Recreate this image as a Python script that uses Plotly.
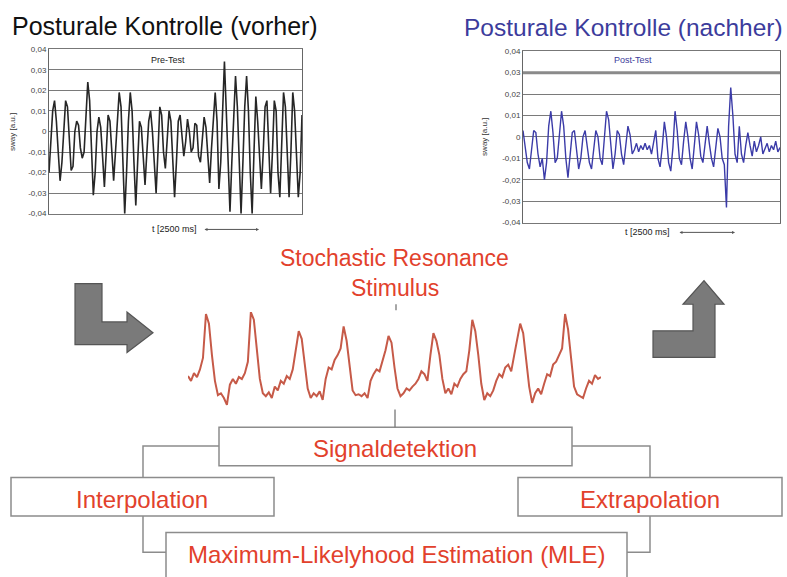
import plotly.graph_objects as go

W, H = 787, 577

# ---------------- data ----------------
pre_sway = [
    -0.020, -0.005, 0.010, 0.015, 0.005, -0.010, -0.024, -0.015, 0.000, 0.015,
    0.012, -0.005, -0.019, -0.017, 0.000, 0.005, 0.003, -0.008, -0.013, -0.010,
    0.005, 0.024, 0.015, -0.010, -0.031, -0.020, 0.000, 0.007, 0.002, -0.012,
    -0.027, -0.010, 0.008, 0.005, -0.008, -0.024, -0.010, 0.005, 0.019, 0.012,
    -0.015, -0.040, -0.020, 0.005, 0.019, 0.010, -0.015, -0.036, -0.015, 0.005,
    0.002, -0.010, -0.026, -0.010, 0.005, 0.010, 0.000, -0.015, -0.030, -0.010,
    0.012, 0.008, -0.010, -0.018, -0.005, 0.010, 0.005, -0.012, -0.032, -0.015,
    0.005, 0.008, -0.002, -0.012, -0.005, 0.006, 0.000, -0.010, -0.008, 0.004,
    0.003, -0.012, -0.015, -0.005, 0.007, 0.002, -0.010, -0.025, -0.008, 0.008,
    0.019, 0.005, -0.028, -0.015, 0.010, 0.034, 0.010, -0.020, -0.039, -0.015,
    0.010, 0.027, 0.012, -0.020, -0.040, -0.015, 0.012, 0.027, 0.010, -0.020,
    -0.040, -0.010, 0.017, 0.005, -0.015, -0.028, -0.010, 0.012, 0.015, -0.005,
    -0.030, -0.010, 0.015, 0.010, -0.020, -0.032, -0.005, 0.019, 0.012, -0.015,
    -0.032, -0.010, 0.019, 0.010, -0.010, -0.032, -0.020, 0.008,
]

post_sway = [
    0.003, -0.005, -0.012, -0.015, -0.005, 0.003, 0.002, -0.008, -0.014, -0.010,
    -0.020, -0.012, 0.005, 0.012, 0.002, -0.012, -0.010, 0.000, 0.012, 0.005,
    -0.010, -0.019, -0.008, 0.002, 0.003, -0.005, -0.015, -0.010, 0.000, 0.003,
    -0.005, -0.012, -0.015, -0.005, 0.003, 0.000, -0.010, -0.013, -0.002, 0.012,
    0.008, -0.005, -0.015, -0.008, 0.003, 0.001, -0.008, -0.013, -0.005, 0.005,
    0.001, -0.008, -0.006, -0.003, -0.007, -0.004, -0.006, -0.003, -0.006, -0.004,
    -0.008, -0.003, 0.003, -0.010, -0.014, -0.005, 0.007, 0.000, -0.012, -0.016,
    -0.005, 0.012, 0.003, -0.010, -0.013, -0.002, 0.007, 0.000, -0.010, -0.015,
    -0.005, 0.007, 0.001, -0.009, -0.012, -0.002, 0.005, -0.003, -0.010, -0.014,
    -0.004, 0.004, 0.000, -0.010, -0.013, -0.033, 0.005, 0.023, 0.010, -0.008,
    -0.012, 0.005, -0.008, -0.012, -0.004, 0.002, -0.004, -0.009, -0.002, -0.007,
    -0.004, 0.000, -0.008, -0.005, -0.003, -0.007, -0.004, -0.006, -0.002, -0.007,
    -0.005,
]

stimulus = [
    0.33, 0.28, 0.36, 0.32, 0.40, 0.52, 0.98, 0.88, 0.55, 0.28,
    0.13, 0.15, 0.10, 0.03, 0.24, 0.30, 0.25, 0.32, 0.30, 0.36,
    0.48, 1.00, 0.92, 0.60, 0.30, 0.15, 0.12, 0.16, 0.10, 0.22,
    0.18, 0.28, 0.25, 0.33, 0.30, 0.40, 0.62, 0.80, 0.72, 0.45,
    0.20, 0.10, 0.15, 0.12, 0.17, 0.08, 0.30, 0.42, 0.40, 0.50,
    0.55, 0.62, 0.85, 0.70, 0.42, 0.18, 0.13, 0.14, 0.12, 0.15,
    0.10, 0.28, 0.35, 0.40, 0.38, 0.48, 0.60, 0.75, 0.68, 0.42,
    0.20, 0.12, 0.15, 0.20, 0.18, 0.22, 0.25, 0.30, 0.38, 0.35,
    0.28, 0.55, 0.78, 0.70, 0.55, 0.30, 0.15, 0.20, 0.14, 0.25,
    0.22, 0.30, 0.35, 0.38, 0.60, 0.92, 0.80, 0.55, 0.25, 0.08,
    0.15, 0.12, 0.18, 0.28, 0.35, 0.32, 0.42, 0.45, 0.38, 0.55,
    0.70, 0.88, 0.78, 0.50, 0.22, 0.05, 0.15, 0.20, 0.14, 0.25,
    0.35, 0.33, 0.45, 0.48, 0.55, 0.62, 0.98, 0.82, 0.52, 0.22,
    0.14, 0.12, 0.10, 0.20, 0.28, 0.25, 0.34, 0.30, 0.32,
]

y_tick_vals = [0.04, 0.03, 0.02, 0.01, 0.0, -0.01, -0.02, -0.03, -0.04]
y_tick_text = ["0,04", "0,03", "0,02", "0,01", "0", "-0,01", "-0,02", "-0,03", "-0,04"]

box_labels = ["Signaldetektion", "Interpolation", "Extrapolation",
              "Maximum-Likelyhood Estimation (MLE)"]

# ---------------- helpers ----------------
def X(px):
    return px / W


def Y(py):
    return 1 - py / H


RED = "#e2412c"
BLUE = "#3c3c9c"
FONT = "Liberation Sans, Arial, sans-serif"

fig = go.Figure()

fig.add_trace(go.Scatter(x=list(range(len(pre_sway))), y=pre_sway, mode="lines",
                         line=dict(color="#262626", width=1.6), xaxis="x", yaxis="y",
                         hoverinfo="skip"))
fig.add_trace(go.Scatter(x=list(range(len(post_sway))), y=post_sway, mode="lines",
                         line=dict(color="#3b3ba8", width=1.4), xaxis="x2", yaxis="y2",
                         hoverinfo="skip"))
fig.add_trace(go.Scatter(x=list(range(len(stimulus))), y=stimulus, mode="lines",
                         line=dict(color="#c65a48", width=2.0), xaxis="x3", yaxis="y3",
                         hoverinfo="skip"))

yax_common = dict(range=[-0.04, 0.04], tickvals=y_tick_vals, ticktext=y_tick_text,
                  tickfont=dict(size=8, color="#444", family=FONT),
                  showgrid=True, gridcolor="#7a7a7a", gridwidth=1,
                  zeroline=False, showline=True, linecolor="#666", linewidth=1,
                  mirror=True, ticks="", fixedrange=True)
xax_common = dict(showticklabels=False, showgrid=False, zeroline=False,
                  showline=True, linecolor="#777", mirror=True, ticks="")

fig.update_layout(
    width=W, height=H,
    margin=dict(l=0, r=0, t=0, b=0),
    paper_bgcolor="white", plot_bgcolor="white",
    showlegend=False,
    xaxis=dict(domain=[X(49), X(302)], range=[0, len(pre_sway) - 1], anchor="y", **xax_common),
    yaxis=dict(domain=[Y(213), Y(46)], anchor="x", **yax_common),
    xaxis2=dict(domain=[X(523), X(780)], range=[0, len(post_sway) - 1], anchor="y2", **xax_common),
    yaxis2=dict(domain=[Y(222), Y(48)], anchor="x2", **yax_common),
    xaxis3=dict(domain=[X(188), X(601)], range=[0, len(stimulus) - 1], anchor="y3",
                visible=False),
    yaxis3=dict(domain=[Y(410), Y(313)], range=[0, 1.0], anchor="x3", visible=False),
)

shapes = []
# thick 0,03 line in post chart
shapes.append(dict(type="line", xref="x2 domain", yref="y2", x0=0, x1=1, y0=0.03, y1=0.03,
                   line=dict(color="#8a8a8a", width=3)))

# boxes (x0, y0, x1, y1 in px)
boxes = [(219, 430, 572, 469), (11, 481, 274, 520), (518, 481, 782, 520), (166, 537, 627, 590)]
for (x0, y0, x1, y1) in boxes:
    shapes.append(dict(type="rect", xref="paper", yref="paper",
                       x0=X(x0), x1=X(x1), y0=Y(y1), y1=Y(y0),
                       line=dict(color="#8c8c8c", width=1.5), fillcolor="white",
                       layer="above"))


def poly(points, close=False, **kw):
    d = "M " + " L ".join(f"{X(a):.5f},{Y(b):.5f}" for a, b in points)
    if close:
        d += " Z"
    return dict(type="path", xref="paper", yref="paper", path=d, **kw)


conn_line = dict(color="#8c8c8c", width=1.5)
shapes.append(poly([(219, 449), (143, 449), (143, 481)], line=conn_line))
shapes.append(poly([(143, 520), (143, 557), (166, 557)], line=conn_line))
shapes.append(poly([(572, 449), (650, 449), (650, 481)], line=conn_line))
shapes.append(poly([(650, 520), (650, 557), (627, 557)], line=conn_line))
shapes.append(poly([(395, 412), (395, 430)], line=dict(color="#777", width=1.3)))
shapes.append(poly([(396, 305), (396, 311)], line=dict(color="#888", width=1.5)))

# grey arrows
arrow_style = dict(line=dict(color="#555", width=1.2), fillcolor="#7a7a7a")
shapes.append(poly([(75, 284), (102, 284), (102, 323), (127, 323), (127, 313), (153, 334),
                    (127, 354), (127, 346), (75, 346)], close=True, **arrow_style))
shapes.append(poly([(653, 332), (693, 332), (693, 305), (683, 305), (704, 281), (724, 305),
                    (715, 305), (715, 359), (653, 359)], close=True, **arrow_style))

fig.update_layout(shapes=shapes)

ann = []


def text(px, py, s, size, color, xanchor="center", angle=0):
    ann.append(dict(x=X(px), y=Y(py), xref="paper", yref="paper", text=s, showarrow=False,
                    xanchor=xanchor, yanchor="middle", textangle=angle,
                    font=dict(family=FONT, size=size, color=color)))


text(10, 22, "Posturale Kontrolle (vorher)", 25, "#111", xanchor="left")
text(462, 24, "Posturale Kontrolle (nachher)", 24.5, BLUE, xanchor="left")
text(168, 57, "Pre-Test", 9, "#222")
text(633, 57, "Post-Test", 9, BLUE)
text(13, 130, "sway [a.u.]", 8, "#333", angle=-90)
text(485, 135, "sway [a.u.]", 8, "#333", angle=-90)
text(174, 229, "t [2500 ms]", 9, "#222")
text(647, 232, "t [2500 ms]", 9, "#222")
text(395, 258, "Stochastic Resonance", 23, RED)
text(395, 288, "Stimulus", 23, RED)
text(395, 452, box_labels[0], 24, RED)
text(142, 503, box_labels[1], 24, RED)
text(650, 503, box_labels[2], 24, RED)
text(396, 559, box_labels[3], 24, RED)

for (tx, hx, hy) in [(203, 259, 229), (678, 735, 232)]:
    ann.append(dict(x=X(hx), y=Y(hy), xref="paper", yref="paper", ax=tx - hx, ay=0,
                    showarrow=True, arrowhead=2, arrowsize=0.6, arrowwidth=1,
                    arrowside="end+start", arrowcolor="#555", text=""))

fig.update_layout(annotations=ann)

fig.write_html("out.html", config={"displayModeBar": False},
               post_script="document.body.style.margin='0';")
